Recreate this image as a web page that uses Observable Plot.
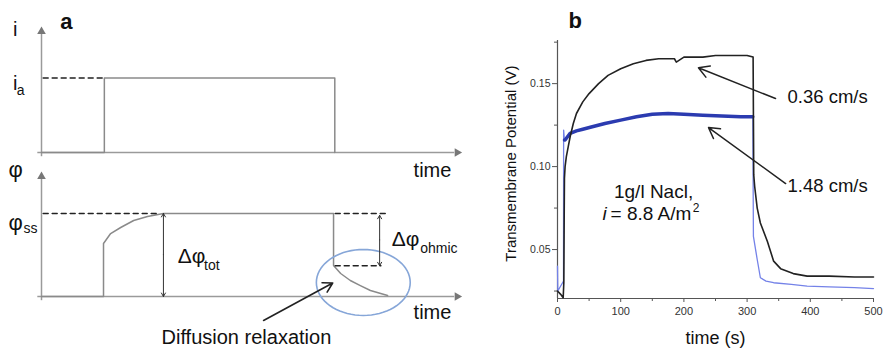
<!DOCTYPE html>
<html><head><meta charset="utf-8">
<script src="https://cdn.jsdelivr.net/npm/d3@7"></script>
<script src="https://cdn.jsdelivr.net/npm/@observablehq/plot@0.6"></script>
<style>
body{margin:0;background:#fff;}
#wrap{position:relative;width:884px;height:349px;overflow:hidden;background:#fff;}
#wrap svg{position:absolute;}
</style></head><body><div id="wrap"></div>
<script>
// ---------- Panel a : schematic (arbitrary time units 0..100, level 0..1) ----------
const currentT = [0, 15, 15, 70, 70];
const currentV = [0, 0, 0.6, 0.6, 0];
const potentialT = [0, 14.8, 14.8, 16.5, 18.9, 22, 25.3, 29.1, 69.7, 69.7, 71.4, 73.7, 76.1, 78.5, 82.6];
const potentialV = [0, 0, 0.431, 0.512, 0.561, 0.618, 0.65, 0.675, 0.675, 0.252, 0.187, 0.13, 0.089, 0.049, 0.008];
const levelIa = 0.6, levelSS = 0.675, levelOhmic = 0.25;
const tOn = 15, tPlateau = 29.1, tOff = 69.8, tEnd = 82.6;

// ---------- Panel b : measured transmembrane potential ----------
const blackT = [0, 5, 9, 10, 10.6, 11, 12, 14, 17, 20, 25, 30, 40, 50, 65, 80, 100, 120, 140, 160, 185, 188, 200, 230, 250, 280, 300, 309.5, 310.5, 312, 316, 321, 332, 342, 353, 373, 395, 430, 470, 500];
const blackV = [0.025, 0.023, 0.021, 0.03, 0.07, 0.093, 0.1, 0.106, 0.112, 0.118, 0.126, 0.132, 0.139, 0.144, 0.15, 0.155, 0.159, 0.162, 0.164, 0.165, 0.165, 0.163, 0.166, 0.166, 0.167, 0.167, 0.167, 0.166, 0.095, 0.088, 0.075, 0.066, 0.055, 0.043, 0.0385, 0.0355, 0.034, 0.034, 0.0335, 0.0335];
const blueT = [0, 0.5, 8, 9.5, 9.7, 11, 12, 15, 20, 30, 40, 55, 75, 100, 125, 150, 175, 200, 230, 260, 290, 309, 310, 316, 321, 330, 342, 370, 395, 430, 470, 500];
const blueV = [0.04, 0.025, 0.03, 0.031, 0.122, 0.116, 0.116, 0.1175, 0.12, 0.1215, 0.1225, 0.124, 0.126, 0.128, 0.13, 0.1315, 0.132, 0.1315, 0.131, 0.1305, 0.13, 0.13, 0.058, 0.044, 0.033, 0.031, 0.03, 0.029, 0.028, 0.0275, 0.027, 0.0265];
const xTicks = [0, 100, 200, 300, 400, 500];
const xMinor = [50, 150, 250, 350, 450];
const yTicks = [0.05, 0.10, 0.15];
const yMinor = [0.025, 0.075, 0.125, 0.175];

const zip = (T, V) => T.map((t, i) => ({t, v: V[i]}));
const current = zip(currentT, currentV);
const potential = zip(potentialT, potentialV);
const black = zip(blackT, blackV);
const blue = zip(blueT, blueV);

const FONT = "Liberation Sans, Arial, Helvetica, sans-serif";
const axisCol = "#9a9a9a", lineCol = "#8a8a8a", ink = "#111";
const baseStyle = {background: "transparent", overflow: "visible", fontFamily: FONT};
const T = (rows, opts) => Plot.text(rows, {x: "t", y: "v", text: "s", fill: ink, fontFamily: FONT, lineAnchor: "middle", ...opts});

// ---- top schematic (current) ----
const aTop = Plot.plot({
  width: 480, height: 185, marginLeft: 41, marginRight: 20, marginTop: 28, marginBottom: 33,
  x: {domain: [0, 100], axis: null}, y: {domain: [0, 1], axis: null},
  style: baseStyle,
  marks: [
    Plot.link([{x1: -1, y1: 0, x2: 98.5, y2: 0}], {x1: "x1", y1: "y1", x2: "x2", y2: "y2", stroke: axisCol, strokeWidth: 1.5}),
    Plot.link([{x1: 0, y1: -0.03, x2: 0, y2: 0.96}], {x1: "x1", y1: "y1", x2: "x2", y2: "y2", stroke: axisCol, strokeWidth: 1.5}),
    Plot.dot([{t: 0, v: 0.975}], {x: "t", y: "v", symbol: "triangle", r: 3.2, fill: "#777", stroke: null}),
    Plot.dot([{t: 99.2, v: 0}], {x: "t", y: "v", symbol: "triangle", r: 3.2, fill: "#777", stroke: null, rotate: 90}),
    Plot.line(current, {x: "t", y: "v", stroke: lineCol, strokeWidth: 1.5}),
    Plot.line([{t: 0.4, v: levelIa}, {t: tOn, v: levelIa}], {x: "t", y: "v", stroke: "#222", strokeWidth: 1.5, strokeDasharray: "5,4"}),
    T([{t: 4.5, v: 1.056, s: "a"}], {fontSize: 22, fontWeight: "bold", textAnchor: "start"}),
    T([{t: -6.3, v: 0.99, s: "i"}], {fontSize: 20, textAnchor: "middle"}),
    T([{t: -6.3, v: 0.552, s: "i"}], {fontSize: 20, textAnchor: "middle"}),
    T([{t: -5.9, v: 0.496, s: "a"}], {fontSize: 14, textAnchor: "start"}),
    T([{t: 88.8, v: -0.142, s: "time"}], {fontSize: 20, textAnchor: "start"})
  ]
});

// ---- bottom schematic (potential) ----
const ell = d3.range(0, 361, 5).map(a => ({t: 76.8 + 11.2 * Math.cos(a * Math.PI / 180), v: 0.114 + 0.268 * Math.sin(a * Math.PI / 180)}));
const aBot = Plot.plot({
  width: 480, height: 189, marginLeft: 41, marginRight: 20, marginTop: 13, marginBottom: 53,
  x: {domain: [0, 100], axis: null}, y: {domain: [0, 1], axis: null},
  style: baseStyle,
  marks: [
    Plot.link([{x1: -1, y1: 0, x2: 98.5, y2: 0}], {x1: "x1", y1: "y1", x2: "x2", y2: "y2", stroke: axisCol, strokeWidth: 1.5}),
    Plot.link([{x1: 0, y1: -0.03, x2: 0, y2: 0.96}], {x1: "x1", y1: "y1", x2: "x2", y2: "y2", stroke: axisCol, strokeWidth: 1.5}),
    Plot.dot([{t: 0, v: 0.975}], {x: "t", y: "v", symbol: "triangle", r: 3.2, fill: "#777", stroke: null}),
    Plot.dot([{t: 99.2, v: 0}], {x: "t", y: "v", symbol: "triangle", r: 3.2, fill: "#777", stroke: null, rotate: 90}),
    Plot.line(potential, {x: "t", y: "v", stroke: lineCol, strokeWidth: 1.5}),
    Plot.line([{t: 0.4, v: levelSS}, {t: tPlateau - 1, v: levelSS}], {x: "t", y: "v", stroke: "#222", strokeWidth: 1.5, strokeDasharray: "5,4"}),
    Plot.line([{t: tOff + 0.3, v: levelSS}, {t: tEnd, v: levelSS}], {x: "t", y: "v", stroke: "#222", strokeWidth: 1.5, strokeDasharray: "5,4"}),
    Plot.line([{t: tOff + 0.3, v: levelOhmic}, {t: 81, v: levelOhmic}], {x: "t", y: "v", stroke: "#222", strokeWidth: 1.5, strokeDasharray: "5,4"}),
    Plot.line(ell, {x: "t", y: "v", stroke: "#86a6d8", strokeWidth: 1.6}),
    // delta phi tot double arrow
    Plot.arrow([{x1: tPlateau, y1: 0.34, x2: tPlateau, y2: levelSS}, {x1: tPlateau, y1: 0.34, x2: tPlateau, y2: 0}], {x1: "x1", y1: "y1", x2: "x2", y2: "y2", stroke: "#333", strokeWidth: 1, headLength: 6}),
    // delta phi ohmic double arrow
    Plot.arrow([{x1: 80.7, y1: 0.46, x2: 80.7, y2: 0.66}, {x1: 80.7, y1: 0.46, x2: 80.7, y2: levelOhmic}], {x1: "x1", y1: "y1", x2: "x2", y2: "y2", stroke: "#333", strokeWidth: 1, headLength: 6}),
    // diffusion relaxation pointer
    Plot.arrow([{x1: 53, y1: -0.195, x2: 69.5, y2: 0.11}], {x1: "x1", y1: "y1", x2: "x2", y2: "y2", stroke: "#222", strokeWidth: 1.6, headLength: 10}),
    T([{t: -6.2, v: 1.028, s: "φ"}], {fontSize: 22, textAnchor: "middle"}),
    T([{t: -6.2, v: 0.6, s: "φ"}], {fontSize: 22, textAnchor: "middle"}),
    T([{t: -4.3, v: 0.549, s: "ss"}], {fontSize: 14, textAnchor: "start"}),
    T([{t: 32.5, v: 0.328, s: "Δφ"}], {fontSize: 21, textAnchor: "start"}),
    T([{t: 38.8, v: 0.248, s: "tot"}], {fontSize: 14, textAnchor: "start"}),
    T([{t: 83.6, v: 0.467, s: "Δφ"}], {fontSize: 21, textAnchor: "start"}),
    T([{t: 90.4, v: 0.394, s: "ohmic"}], {fontSize: 14, textAnchor: "start"}),
    T([{t: 88.8, v: -0.127, s: "time"}], {fontSize: 20, textAnchor: "start"}),
    T([{t: 48.9, v: -0.337, s: "Diffusion relaxation"}], {fontSize: 20, textAnchor: "middle"})
  ]
});

// ---- panel b ----
const bPlot = Plot.plot({
  width: 384, height: 349, marginLeft: 57, marginRight: 11, marginTop: 40, marginBottom: 51,
  x: {domain: [0, 500]}, y: {domain: [0.0205, 0.176]},
  style: baseStyle,
  marks: [
    Plot.axisY(yTicks, {tickSize: 5, tickPadding: 2, tickFormat: d3.format(".2f"), fontSize: 10.5, label: null, stroke: "#555", fill: "#333"}),
    Plot.axisY(yMinor, {tickSize: 3, tickFormat: () => "", label: null, stroke: "#555"}),
    Plot.axisX(xTicks, {tickSize: 4, tickPadding: 5, fontSize: 11, label: null, stroke: "#555", fill: "#333"}),
    Plot.axisX(xMinor, {tickSize: 3, tickFormat: () => "", label: null, stroke: "#555"}),
    Plot.ruleX([0], {stroke: "#555", strokeWidth: 1.2}),
    Plot.ruleY([0.0205], {stroke: "#555", strokeWidth: 1.2}),
    Plot.line(blue, {x: "t", y: "v", stroke: "#7482e8", strokeWidth: 1.3}),
    Plot.line(blue, {x: "t", y: "v", filter: d => d.t >= 11 && d.t <= 309, stroke: "#2b3bb0", strokeWidth: 3.5}),
    Plot.line(black, {x: "t", y: "v", stroke: "#222", strokeWidth: 1.6}),
    Plot.arrow([{x1: 345, y1: 0.141, x2: 223, y2: 0.1596}, {x1: 361, y1: 0.0898, x2: 239, y2: 0.1235}], {x1: "x1", y1: "y1", x2: "x2", y2: "y2", stroke: "#222", strokeWidth: 1.5, headLength: 12}),
    T([{t: 17.4, v: 0.188, s: "b"}], {fontSize: 22, fontWeight: "bold", textAnchor: "start"}),
    T([{t: 364, v: 0.1416, s: "0.36 cm/s"}], {fontSize: 18.5, textAnchor: "start"}),
    T([{t: 364, v: 0.088, s: "1.48 cm/s"}], {fontSize: 18.5, textAnchor: "start"}),
    T([{t: 152, v: 0.085, s: "1g/l Nacl,"}], {fontSize: 19, textAnchor: "middle"}),
    T([{t: 71.2, v: 0.0717, s: "i"}], {fontSize: 19, fontStyle: "italic", textAnchor: "start"}),
    T([{t: 83.9, v: 0.0717, s: "= 8.8 A/m"}], {fontSize: 19, textAnchor: "start"}),
    T([{t: 214, v: 0.0747, s: "2"}], {fontSize: 12, textAnchor: "start"}),
    T([{t: 250, v: -0.0036, s: "time (s)"}], {fontSize: 18, textAnchor: "middle"}),
    T([{t: -72.8, v: 0.1018, s: "Transmembrane Potential (V)"}], {fontSize: 15, textAnchor: "middle", rotate: -90})
  ]
});

const wrap = document.getElementById("wrap");
aTop.style.left = "0px"; aTop.style.top = "0px";
aBot.style.left = "0px"; aBot.style.top = "160px";
bPlot.style.left = "500px"; bPlot.style.top = "0px";
wrap.append(aTop, aBot, bPlot);
</script></body></html>
